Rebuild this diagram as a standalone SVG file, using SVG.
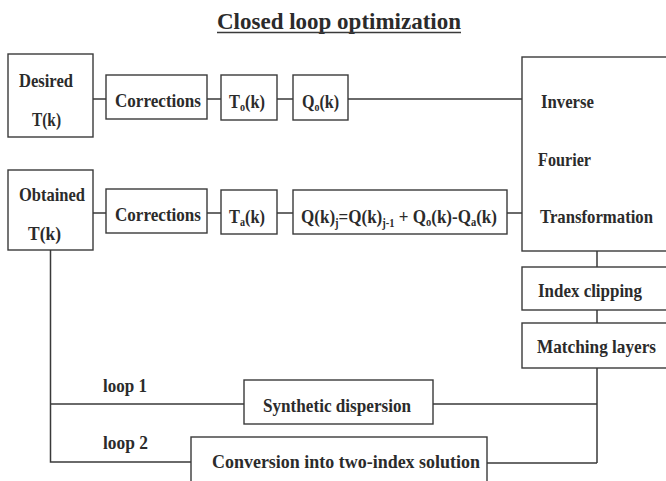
<svg xmlns="http://www.w3.org/2000/svg" width="666" height="481" viewBox="0 0 666 481">
  <style>
    .box { fill: #ffffff; stroke: #3a3a3a; stroke-width: 1.4; }
    .wire { fill: none; stroke: #3a3a3a; stroke-width: 1.5; }
    text { font-family: "Liberation Serif", "Times New Roman", serif; font-weight: bold; font-size: 19.5px; fill: #2b2b2b; }
    .title { font-size: 23px; }
    .sub { font-size: 12px; }
  </style>

  <rect width="666" height="481" fill="#ffffff"/>

  <!-- heading -->
  <g id="title">
    <text class="title" x="217" y="29" textLength="244" lengthAdjust="spacingAndGlyphs">Closed loop optimization</text>
    <line x1="217" y1="32.5" x2="461" y2="32.5" stroke="#3a3a3a" stroke-width="1.5"/>
  </g>

  <!-- connectors -->
  <g id="connectors" class="wire">
    <!-- desired branch -->
    <path d="M93 99 H106 M207 99 H221 M277 99 H293 M348 99 H522"/>
    <!-- obtained branch -->
    <path d="M93 213 H106 M207 213 H221 M277 213 H293 M507 213 H522"/>
    <!-- right-hand chain -->
    <path d="M597 251 V267 M597 310 V323 M597 368 V463"/>
    <!-- feedback loops -->
    <path d="M50.5 250 V462 H191 M50.5 404 H244 M433 404 H597 M487 463 H597"/>
  </g>

  <!-- top row -->
  <g id="desired">
    <rect class="box" x="8" y="54" width="85" height="83"/>
    <text x="19" y="87" textLength="54" lengthAdjust="spacingAndGlyphs">Desired</text>
    <text x="32" y="126" textLength="29" lengthAdjust="spacingAndGlyphs">T(k)</text>
  </g>
  <g id="corrections-desired">
    <rect class="box" x="106" y="75" width="101" height="44"/>
    <text x="115" y="107" textLength="86" lengthAdjust="spacingAndGlyphs">Corrections</text>
  </g>
  <g id="to">
    <rect class="box" x="221" y="75" width="56" height="45"/>
    <text x="229" y="108" textLength="36" lengthAdjust="spacingAndGlyphs">T<tspan class="sub" dy="3">o</tspan><tspan dy="-3">(k)</tspan></text>
  </g>
  <g id="qo">
    <rect class="box" x="293" y="75" width="55" height="45"/>
    <text x="302" y="108" textLength="37" lengthAdjust="spacingAndGlyphs">Q<tspan class="sub" dy="3">o</tspan><tspan dy="-3">(k)</tspan></text>
  </g>

  <!-- transform block -->
  <g id="ift">
    <rect class="box" x="522" y="57" width="160" height="194"/>
    <text x="541" y="108" textLength="53" lengthAdjust="spacingAndGlyphs">Inverse</text>
    <text x="538" y="166" textLength="53" lengthAdjust="spacingAndGlyphs">Fourier</text>
    <text x="540" y="223" textLength="113" lengthAdjust="spacingAndGlyphs">Transformation</text>
  </g>

  <!-- bottom row -->
  <g id="obtained">
    <rect class="box" x="8" y="170" width="85" height="80"/>
    <text x="19" y="201" textLength="66" lengthAdjust="spacingAndGlyphs">Obtained</text>
    <text x="28" y="240" textLength="33" lengthAdjust="spacingAndGlyphs">T(k)</text>
  </g>
  <g id="corrections-obtained">
    <rect class="box" x="106" y="189" width="101" height="44"/>
    <text x="115" y="221" textLength="86" lengthAdjust="spacingAndGlyphs">Corrections</text>
  </g>
  <g id="ta">
    <rect class="box" x="221" y="190" width="56" height="44"/>
    <text x="229" y="223" textLength="36" lengthAdjust="spacingAndGlyphs">T<tspan class="sub" dy="3">a</tspan><tspan dy="-3">(k)</tspan></text>
  </g>
  <g id="update">
    <rect class="box" x="293" y="190" width="214" height="44"/>
    <text x="301" y="223" textLength="196" lengthAdjust="spacingAndGlyphs">Q(k)<tspan class="sub" dy="4">j</tspan><tspan dy="-4">=Q(k)</tspan><tspan class="sub" dy="4">j-1</tspan><tspan dy="-4"> + Q</tspan><tspan class="sub" dy="3">o</tspan><tspan dy="-3">(k)-Q</tspan><tspan class="sub" dy="3">a</tspan><tspan dy="-3">(k)</tspan></text>
  </g>

  <g id="index-clipping">
    <rect class="box" x="522" y="267" width="160" height="43"/>
    <text x="538" y="297" textLength="104" lengthAdjust="spacingAndGlyphs">Index clipping</text>
  </g>
  <g id="matching-layers">
    <rect class="box" x="522" y="323" width="160" height="45"/>
    <text x="537" y="353" textLength="119" lengthAdjust="spacingAndGlyphs">Matching layers</text>
  </g>

  <!-- loops -->
  <g id="loop-labels">
    <text x="103" y="392" textLength="44" lengthAdjust="spacingAndGlyphs">loop 1</text>
    <text x="103" y="449" textLength="45" lengthAdjust="spacingAndGlyphs">loop 2</text>
  </g>
  <g id="synthetic-dispersion">
    <rect class="box" x="244" y="380" width="189" height="44"/>
    <text x="263" y="412" textLength="148" lengthAdjust="spacingAndGlyphs">Synthetic dispersion</text>
  </g>
  <g id="conversion">
    <rect class="box" x="191" y="437" width="296" height="60"/>
    <text x="212" y="468" textLength="268" lengthAdjust="spacingAndGlyphs">Conversion into two-index solution</text>
  </g>
</svg>
